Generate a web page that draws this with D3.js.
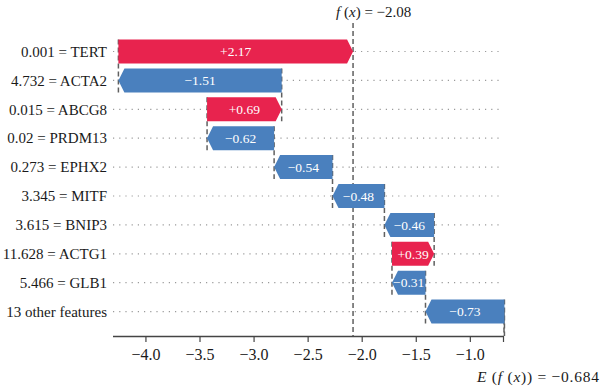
<!DOCTYPE html>
<html>
<head>
<meta charset="utf-8">
<script src="https://cdn.jsdelivr.net/npm/d3@7"></script>
<style>
  html, body { margin: 0; padding: 0; background: #fff; }
  svg { display: block; }
  text { font-family: "Liberation Serif", "DejaVu Serif", serif; }
</style>
</head>
<body>
<svg id="chart" width="600" height="390"></svg>
<script>
// ---- data ----
const features = ["0.001 = TERT", "4.732 = ACTA2", "0.015 = ABCG8", "0.02 = PRDM13", "0.273 = EPHX2",
                  "3.345 = MITF", "3.615 = BNIP3", "11.628 = ACTG1", "5.466 = GLB1", "13 other features"];
const shapValues = [2.17, -1.51, 0.69, -0.62, -0.54, -0.48, -0.46, 0.39, -0.31, -0.73];
const baseValue = -0.684;
const fxValue = -2.08;
const xTicks = [-4.0, -3.5, -3.0, -2.5, -2.0, -1.5, -1.0];
const xDomain = [-4.30, -0.684];

// ---- layout ----
const W = 600, H = 390;
const plotLeft = 113, plotRight = 504, plotTop = 23, axisY = 336;
const red = "#E8234E", blue = "#4A80BE";

const svg = d3.select("#chart");
const x = d3.scaleLinear().domain(xDomain).range([plotLeft, plotRight]);
const y = d3.scalePoint().domain(features).range([51.5, 311.6]);
const barH = 24, hl = 6;

// cumulative: bar i goes from start to end, end of bar0 = fx
const bars = [];
let loc = fxValue;
features.forEach((f, i) => {
  const v = shapValues[i];
  const end = loc;
  const start = loc - v;
  bars.push({ f, v, start, end });
  loc = start;
});

svg.append("defs").append("clipPath").attr("id", "plotclip")
  .append("rect").attr("x", 0).attr("y", plotTop).attr("width", W).attr("height", axisY - plotTop);

// dotted row lines
svg.append("g").selectAll("line").data(features).join("line")
  .attr("x1", plotLeft).attr("x2", plotRight - 1)
  .attr("y1", d => y(d)).attr("y2", d => y(d))
  .attr("stroke", "#9a9a9a").attr("stroke-width", 1.2).attr("stroke-dasharray", "1.2,5");

// dashed connectors
const dashG = svg.append("g").attr("clip-path", "url(#plotclip)");
const step = y.step();
bars.forEach((b, i) => {
  dashG.append("line")
    .attr("x1", x(b.start)).attr("x2", x(b.start))
    .attr("y1", y(b.f) - barH / 2).attr("y2", y(b.f) + step + barH / 2)
    .attr("stroke", "#606060").attr("stroke-width", 1.5).attr("stroke-dasharray", "5,3");
});
// f(x) line
dashG.append("line")
  .attr("x1", x(fxValue)).attr("x2", x(fxValue))
  .attr("y1", plotTop).attr("y2", axisY)
  .attr("stroke", "#606060").attr("stroke-width", 1.5).attr("stroke-dasharray", "5,3");
// base line
dashG.append("line")
  .attr("x1", x(baseValue)).attr("x2", x(baseValue))
  .attr("y1", y(features[features.length - 1])).attr("y2", axisY)
  .attr("stroke", "#606060").attr("stroke-width", 1.5).attr("stroke-dasharray", "5,3");

// arrows
function arrowPath(b) {
  const xa = x(b.start), xb = x(b.end), c = y(b.f), h = barH / 2;
  const w = Math.abs(xb - xa);
  const hh = Math.min(hl, w);
  const dir = xb > xa ? 1 : -1;
  const xn = xb - dir * hh;
  return `M${xa},${c - h}L${xn},${c - h}L${xb},${c}L${xn},${c + h}L${xa},${c + h}Z`;
}
svg.append("g").selectAll("path").data(bars).join("path")
  .attr("d", arrowPath)
  .attr("fill", d => d.v >= 0 ? red : blue);

// bar labels
svg.append("g").selectAll("text").data(bars).join("text")
  .attr("x", d => x((d.start + d.end) / 2))
  .attr("y", d => y(d.f))
  .attr("dy", "0.35em")
  .attr("text-anchor", "middle")
  .attr("fill", "#fff")
  .attr("font-size", "13.5px")
  .text(d => (d.v >= 0 ? "+" : "\u2212") + Math.abs(d.v).toFixed(2));

// feature labels
svg.append("g").selectAll("text").data(features).join("text")
  .attr("x", plotLeft - 6)
  .attr("y", d => y(d))
  .attr("dy", "0.35em")
  .attr("text-anchor", "end")
  .attr("fill", "#1a1a1a")
  .attr("font-size", "15px")
  .text(d => d);

// x axis
const axis = d3.axisBottom(x).tickValues(xTicks).tickSize(6).tickPadding(7)
  .tickFormat(d => d3.format(".1f")(d).replace("-", "\u2212"));
const ag = svg.append("g").attr("transform", `translate(0,${axisY})`).call(axis);
ag.select(".domain").attr("stroke", "#444").attr("stroke-width", 1.3).attr("d", `M${plotLeft},0.5H${plotRight - 1}`);
ag.selectAll(".tick line").attr("stroke", "#444").attr("stroke-width", 1.2);
ag.selectAll(".tick text").attr("font-size", "16px").attr("fill", "#1a1a1a")
  .attr("font-family", "Liberation Serif, serif");
// E tick
svg.append("line").attr("x1", x(baseValue) - 0.5).attr("x2", x(baseValue) - 0.5)
  .attr("y1", axisY).attr("y2", axisY + 6).attr("stroke", "#444").attr("stroke-width", 1.2);

// top label f(x)
const tf = svg.append("text").attr("x", x(fxValue) - 17).attr("y", 17)
  .attr("font-size", "15px").attr("fill", "#1a1a1a");
tf.append("tspan").attr("font-style", "italic").text("f");
tf.append("tspan").text(" (");
tf.append("tspan").attr("font-style", "italic").text("x");
tf.append("tspan").text(") = \u2212" + Math.abs(fxValue).toFixed(2));

// bottom label E(f(x))
const te = svg.append("text").attr("x", W - 1).attr("y", 382).attr("text-anchor", "end")
  .attr("font-size", "15.5px").attr("fill", "#1a1a1a")
  .attr("textLength", 122).attr("lengthAdjust", "spacing");
te.append("tspan").attr("font-style", "italic").text("E");
te.append("tspan").text(" (");
te.append("tspan").attr("font-style", "italic").text("f");
te.append("tspan").text(" (");
te.append("tspan").attr("font-style", "italic").text("x");
te.append("tspan").text(")) = \u2212" + Math.abs(baseValue).toFixed(3));
</script>
</body>
</html>
